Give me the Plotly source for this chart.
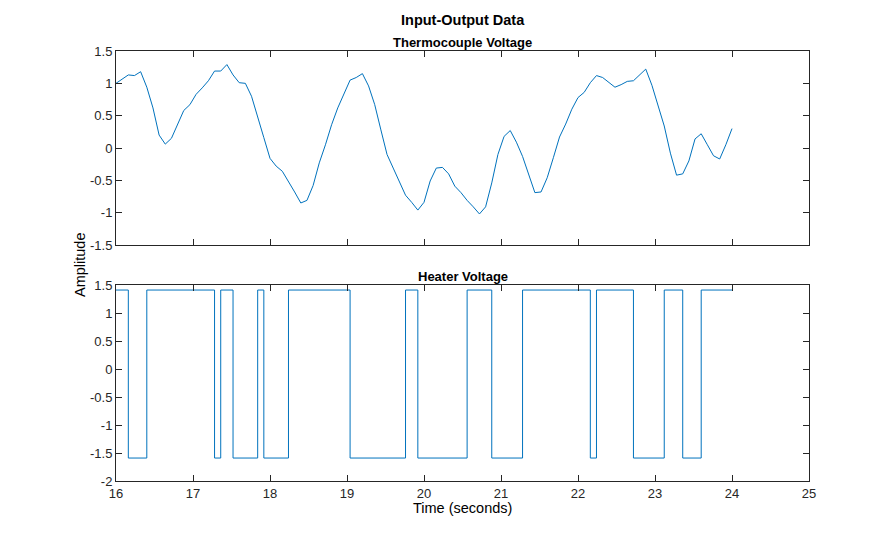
import numpy as np
import plotly.graph_objects as go

# ---- data ----
t_start = 16.0
Ts = 0.08
thermo_v = [
    1.00, 1.07, 1.13, 1.12, 1.18, 0.94, 0.62, 0.20, 0.06, 0.15, 0.37, 0.58, 0.67,
    0.83, 0.93, 1.04, 1.19, 1.19, 1.29, 1.13, 1.01, 1.00, 0.80, 0.46, 0.16,
    -0.16, -0.28, -0.36, -0.51, -0.68, -0.85, -0.81, -0.58, -0.23, 0.05, 0.36, 0.62, 0.85,
    1.05, 1.09, 1.15, 0.96, 0.67, 0.28, -0.10, -0.31, -0.51, -0.73, -0.84, -0.96,
    -0.84, -0.51, -0.31, -0.30, -0.40, -0.59, -0.69, -0.81, -0.91, -1.02, -0.91, -0.54, -0.10,
    0.18, 0.27, 0.09, -0.13, -0.41, -0.69, -0.68, -0.46, -0.15, 0.17, 0.37, 0.60,
    0.78, 0.86, 1.01, 1.12, 1.09, 1.01, 0.94, 0.98, 1.03, 1.04, 1.13, 1.22, 0.97,
    0.67, 0.34, -0.08, -0.42, -0.40, -0.20, 0.14, 0.22, 0.05, -0.12, -0.17, 0.05,
    0.30,
]
thermo_t = [round(t_start + i * Ts, 2) for i in range(len(thermo_v))]

heater_high = 1.41
heater_low = -1.59
heater_t = [16.00, 16.16, 16.40, 17.28, 17.36, 17.52, 17.84, 17.92, 18.24, 19.04,
            19.76, 19.92, 20.56, 20.88, 21.28, 22.16, 22.24, 22.72, 23.12, 23.36,
            23.60, 24.00]
heater_state = [1, 0, 1, 0, 1, 0, 1, 0, 1, 0, 1, 0, 1, 0, 1, 0, 1, 0, 1, 0, 1, 1]
heater_v = [heater_high if s else heater_low for s in heater_state]

x_ticks = list(range(16, 26))
y1_ticks = [-1.5, -1, -0.5, 0, 0.5, 1, 1.5]
y2_ticks = [-2, -1.5, -1, -0.5, 0, 0.5, 1, 1.5]

# ---- figure ----
W, H = 895, 540
OFF = 8  # page body offset
# target pixel positions in the screenshot
PL, PR, PT, PB = 116, 809, 51, 481
L = PL - OFF
R = W - (PR - OFF)
T = PT - OFF
B = H - (PB - OFF)
ph = PB - PT
top_bottom_px = 245
bot_top_px = 285
d1 = ((PB - top_bottom_px) / ph, 1.0)
d2 = (0.0, (PB - bot_top_px) / ph)

line_col = "#0072BD"
ax_col = "#262626"
font_fam = "Liberation Sans, Arial, Helvetica, sans-serif"

fig = go.Figure()
fig.add_trace(go.Scatter(x=thermo_t, y=thermo_v, mode="lines",
                         line=dict(color=line_col, width=1), xaxis="x", yaxis="y",
                         showlegend=False))
fig.add_trace(go.Scatter(x=heater_t, y=heater_v, mode="lines",
                         line=dict(color=line_col, width=1, shape="hv"),
                         xaxis="x2", yaxis="y2", showlegend=False))

def fmt(v):
    return "%g" % v

common = dict(showline=True, linecolor=ax_col, linewidth=1, mirror="ticks",
              ticks="inside", ticklen=6, tickcolor=ax_col, tickwidth=1,
              showgrid=False, zeroline=False,
              tickfont=dict(family=font_fam, size=13, color=ax_col))

fig.update_layout(
    width=W, height=H,
    margin=dict(l=L, r=R, t=T, b=B),
    paper_bgcolor="white", plot_bgcolor="white",
    font=dict(family=font_fam, color=ax_col),
    xaxis=dict(domain=[0, 1], anchor="y", range=[16, 25], tickvals=x_ticks,
               showticklabels=False, **common),
    yaxis=dict(domain=list(d1), anchor="x", range=[-1.5, 1.5], tickvals=y1_ticks,
               ticktext=[fmt(v) for v in y1_ticks], **common),
    xaxis2=dict(domain=[0, 1], anchor="y2", range=[16, 25], tickvals=x_ticks,
                ticktext=[str(v) for v in x_ticks], **common),
    yaxis2=dict(domain=list(d2), anchor="x2", range=[-2, 1.5], tickvals=y2_ticks,
                ticktext=[fmt(v) for v in y2_ticks], **common),
)

def py(px):
    return (PB - px) / ph

def pxx(px):
    return (px - PL) / (PR - PL)

ann = [
    dict(text="<b>Input-Output Data</b>", x=0.5, y=py(20), size=14.5),
    dict(text="<b>Thermocouple Voltage</b>", x=0.5, y=py(42), size=13),
    dict(text="<b>Heater Voltage</b>", x=0.5, y=py(276), size=13),
    dict(text="Time (seconds)", x=0.5, y=py(508), size=14.5),
]
for a in ann:
    fig.add_annotation(text=a["text"], x=a["x"], y=a["y"], xref="paper", yref="paper",
                       xanchor="center", yanchor="middle", showarrow=False,
                       font=dict(family=font_fam, size=a["size"], color="black"))
fig.add_annotation(text="Amplitude", x=pxx(80), y=py(265),
                   xref="paper", yref="paper", xanchor="center", yanchor="middle",
                   textangle=-90, showarrow=False,
                   font=dict(family=font_fam, size=14.5, color="black"))

fig.write_html("out.html")
